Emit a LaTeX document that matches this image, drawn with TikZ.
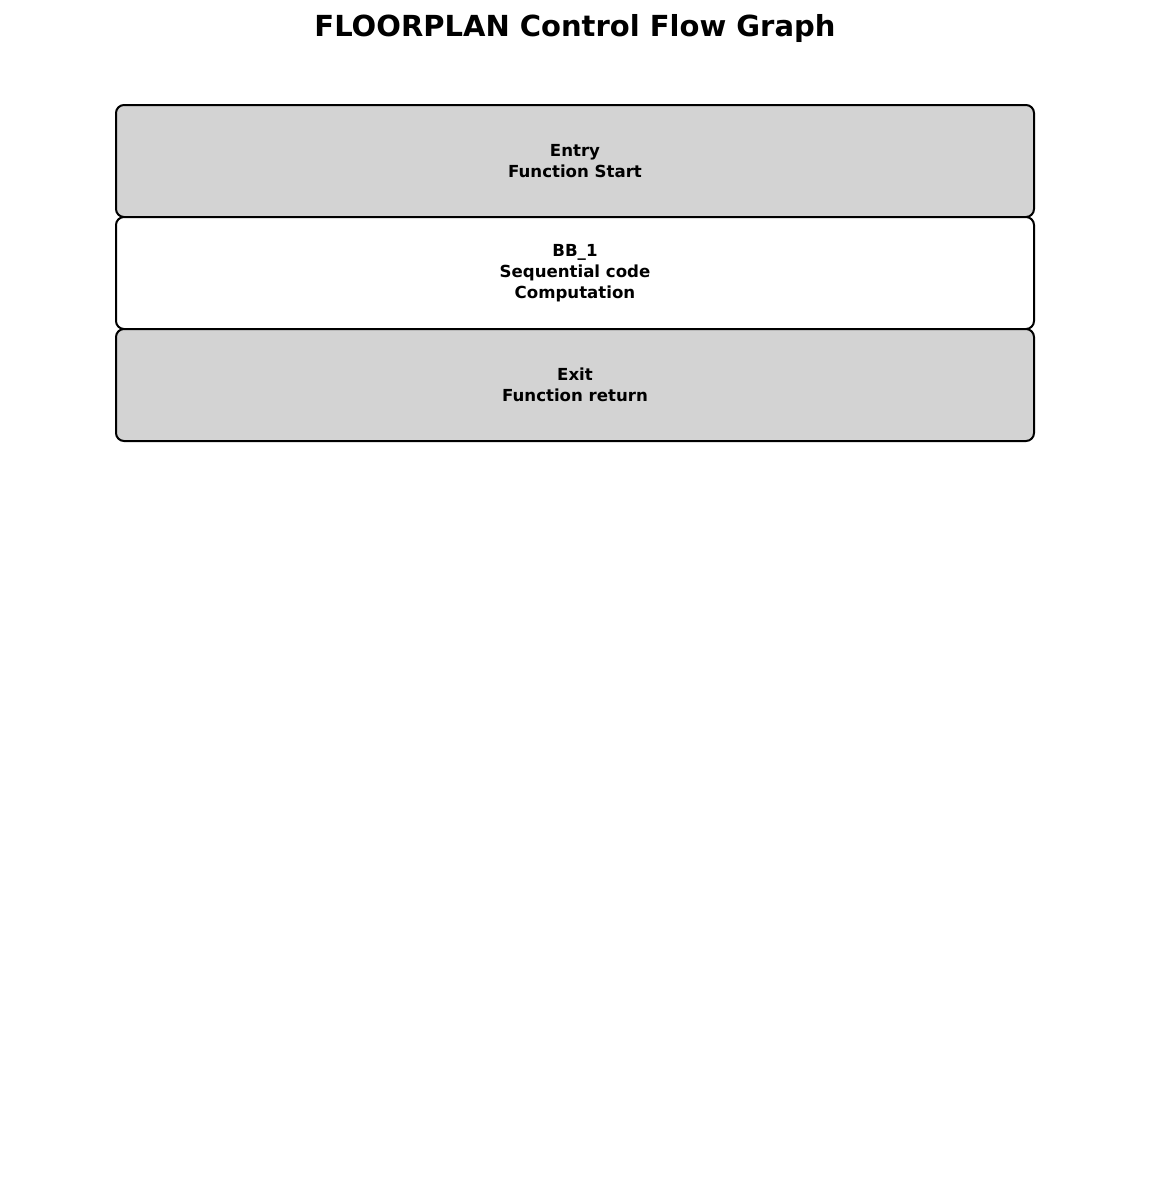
\documentclass[tikz,border=0pt]{standalone}
\usepackage{fontspec}
\setmainfont{DejaVu Sans}
\begin{document}
\begin{tikzpicture}[x=1pt,y=-1pt,
  block/.style={draw=black, line width=2pt, rounded corners=8pt, minimum width=918pt, minimum height=112pt, inner sep=0pt, align=center, font=\fontsize{16.6}{21}\selectfont\bfseries},
  grayblock/.style={block, fill=lightgray},
  whiteblock/.style={block, fill=white}]
\definecolor{lightgray}{RGB}{211,211,211}
\useasboundingbox (0,0) rectangle (1150,1184);
\node[font=\fontsize{29}{34}\selectfont\bfseries] (title) at (575,28) {FLOORPLAN Control Flow Graph};
\node[grayblock] (entry) at (575,161) {Entry\\Function Start};
\node[whiteblock] (bb1) at (575,273) {BB\_1\\Sequential code\\Computation};
\node[grayblock] (exit) at (575,385) {Exit\\Function return};
\end{tikzpicture}
\end{document}
